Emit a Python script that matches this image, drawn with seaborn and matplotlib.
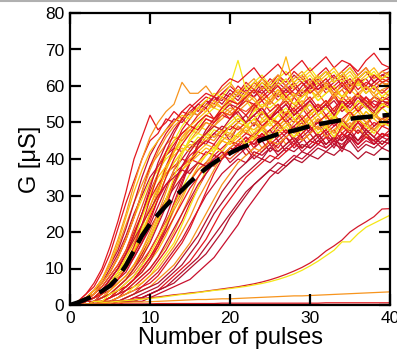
import pandas as pd
import matplotlib.pyplot as plt
import seaborn as sns
from matplotlib.lines import Line2D

pulses = list(range(41))

# conductance traces, one list per device (G in uS at each pulse)
fast_curves = [
    [0, 1, 3, 5, 9, 14, 21, 28, 34, 40, 45, 47, 51, 50, 53, 55, 53, 56, 54, 57,
     56, 55, 58, 57, 59, 56, 58, 60, 58, 57, 60, 59, 61, 58, 60, 62, 59, 61, 60, 58, 60],
    [0, 1, 2, 4, 7, 11, 16, 22, 28, 33, 38, 41, 44, 46, 45, 48, 47, 50, 49, 51,
     53, 50, 52, 54, 51, 53, 55, 52, 54, 56, 53, 55, 54, 57, 55, 53, 56, 54, 57, 55, 56],
    [0, 1, 2, 4, 7, 11, 15, 21, 28, 35, 41, 45, 48, 51, 50, 53, 55, 54, 57, 55,
     58, 56, 59, 57, 60, 58, 61, 59, 57, 60, 62, 59, 61, 63, 60, 58, 61, 62, 59, 61, 60],
    [0, 1, 2, 3, 6, 9, 13, 18, 24, 29, 34, 37, 40, 42, 44, 43, 46, 45, 48, 47,
     49, 48, 50, 47, 51, 49, 52, 50, 48, 51, 53, 50, 52, 51, 54, 52, 50, 53, 51, 54, 52],
    [0, 1, 2, 3, 6, 9, 13, 18, 24, 31, 38, 43, 47, 50, 53, 52, 55, 57, 56, 58,
     57, 60, 58, 61, 59, 62, 60, 58, 61, 63, 60, 62, 64, 61, 63, 60, 62, 64, 61, 63, 62],
    [0, 0, 1, 3, 5, 8, 11, 15, 21, 27, 33, 38, 42, 45, 47, 49, 48, 51, 50, 53,
     52, 54, 53, 55, 52, 56, 54, 57, 55, 53, 56, 58, 55, 57, 59, 56, 58, 55, 57, 59, 57],
    [0, 0, 1, 2, 4, 7, 10, 14, 19, 25, 30, 35, 38, 41, 43, 42, 45, 47, 46, 48,
     47, 50, 49, 51, 48, 52, 50, 53, 51, 49, 52, 54, 51, 53, 55, 52, 54, 51, 53, 55, 54],
    [0, 0, 1, 2, 4, 7, 10, 14, 19, 25, 32, 39, 44, 48, 51, 53, 52, 55, 57, 56,
     59, 57, 60, 58, 61, 59, 62, 60, 63, 61, 59, 62, 64, 61, 63, 65, 62, 64, 61, 63, 64],
    [0, 1, 2, 4, 7, 12, 18, 25, 33, 40, 46, 50, 53, 55, 61, 58, 58, 60, 57, 59,
     61, 58, 60, 62, 59, 61, 63, 60, 62, 64, 61, 63, 60, 62, 64, 61, 63, 65, 62, 64, 63],
]

mid_curves = [
    [0, 0, 1, 2, 4, 6, 9, 12, 16, 21, 27, 33, 38, 42, 45, 47, 49, 48, 51, 53,
     52, 54, 56, 53, 57, 55, 58, 56, 54, 57, 59, 56, 58, 60, 57, 59, 61, 58, 60, 57, 59],
    [0, 0, 1, 2, 3, 5, 8, 11, 15, 19, 24, 29, 33, 36, 38, 40, 39, 42, 41, 43,
     45, 44, 46, 43, 47, 45, 48, 46, 44, 47, 49, 46, 48, 50, 47, 49, 51, 48, 50, 49, 50],
    [0, 0, 1, 2, 3, 5, 8, 11, 15, 20, 25, 31, 37, 42, 46, 48, 50, 52, 51, 54,
     53, 55, 57, 54, 58, 56, 59, 57, 55, 58, 60, 58, 61, 59, 57, 60, 62, 59, 61, 60, 61],
    [0, 0, 1, 1, 3, 4, 7, 9, 13, 17, 22, 27, 32, 37, 40, 43, 45, 44, 47, 49,
     48, 50, 52, 49, 53, 51, 54, 52, 50, 53, 55, 52, 54, 56, 53, 55, 57, 54, 56, 55, 56],
    [0, 0, 1, 2, 3, 5, 7, 10, 14, 19, 25, 31, 38, 43, 48, 51, 54, 56, 55, 58,
     60, 58, 61, 59, 62, 60, 63, 61, 64, 62, 60, 63, 65, 62, 64, 66, 63, 65, 62, 64, 65],
    [0, 0, 0, 1, 2, 4, 6, 8, 11, 15, 19, 24, 29, 33, 37, 39, 41, 43, 42, 45,
     44, 46, 48, 45, 49, 47, 50, 48, 46, 49, 51, 48, 50, 52, 49, 51, 53, 50, 52, 51, 52],
    [0, 0, 0, 1, 2, 4, 6, 8, 11, 15, 20, 25, 31, 37, 42, 45, 48, 50, 49, 52,
     54, 53, 55, 57, 54, 56, 58, 55, 57, 59, 56, 58, 60, 57, 59, 61, 58, 60, 57, 59, 60],
    [0, 0, 0, 1, 2, 3, 5, 7, 10, 14, 18, 23, 29, 34, 38, 41, 43, 45, 44, 47,
     49, 48, 50, 52, 49, 51, 53, 50, 52, 54, 51, 53, 55, 52, 54, 56, 53, 55, 52, 54, 55],
    [0, 0, 0, 1, 2, 3, 5, 7, 10, 13, 18, 23, 29, 35, 41, 46, 49, 52, 54, 53,
     56, 58, 57, 59, 61, 58, 60, 62, 59, 61, 63, 60, 62, 64, 61, 63, 60, 62, 64, 61, 62],
    [0, 0, 1, 2, 4, 6, 9, 13, 18, 24, 30, 36, 41, 45, 49, 52, 54, 56, 58, 57,
     60, 67, 59, 61, 63, 60, 62, 64, 61, 63, 65, 62, 64, 61, 63, 65, 62, 64, 63, 62, 63],
    [0, 0, 1, 2, 3, 5, 8, 11, 16, 22, 29, 36, 42, 47, 51, 54, 56, 58, 57, 60,
     62, 61, 63, 65, 62, 64, 66, 63, 65, 67, 64, 66, 68, 65, 67, 66, 64, 67, 69, 66, 65],
    [0, 0, 1, 2, 3, 5, 7, 10, 14, 19, 25, 31, 37, 42, 46, 49, 51, 53, 55, 54,
     57, 59, 58, 60, 62, 59, 61, 68, 60, 62, 64, 61, 63, 65, 62, 64, 61, 63, 65, 62, 64],
]

slow_curves = [
    [0, 0, 0, 1, 2, 3, 4, 6, 8, 11, 15, 19, 24, 30, 35, 39, 43, 45, 47, 46,
     49, 51, 50, 52, 54, 51, 53, 55, 52, 54, 56, 53, 55, 57, 54, 56, 58, 55, 57, 56, 57],
    [0, 0, 0, 1, 1, 2, 4, 5, 7, 10, 13, 17, 21, 26, 30, 34, 37, 39, 41, 40,
     43, 42, 44, 46, 43, 45, 47, 44, 46, 48, 45, 47, 49, 46, 48, 50, 47, 49, 48, 50, 49],
    [0, 0, 0, 1, 1, 2, 4, 5, 7, 10, 13, 17, 22, 28, 34, 39, 44, 47, 50, 52,
     51, 54, 56, 55, 57, 59, 56, 58, 60, 57, 59, 61, 58, 60, 62, 59, 61, 58, 60, 62, 61],
    [0, 0, 0, 0, 1, 2, 3, 5, 7, 9, 12, 15, 19, 24, 29, 34, 38, 41, 43, 45,
     44, 47, 49, 48, 50, 52, 49, 51, 53, 50, 52, 54, 51, 53, 55, 52, 54, 51, 53, 55, 54],
    [0, 0, 0, 0, 1, 2, 3, 5, 7, 9, 12, 16, 21, 27, 33, 39, 44, 48, 51, 53,
     55, 54, 57, 59, 58, 60, 57, 59, 61, 58, 60, 62, 59, 61, 63, 60, 62, 59, 61, 63, 62],
    [0, 0, 0, 0, 1, 2, 3, 4, 6, 8, 10, 13, 16, 20, 25, 30, 35, 39, 42, 45,
     47, 46, 49, 51, 50, 52, 54, 51, 53, 55, 52, 54, 56, 53, 55, 57, 54, 56, 53, 55, 56],
    [0, 0, 0, 0, 1, 1, 2, 4, 5, 7, 9, 12, 15, 19, 23, 28, 32, 36, 39, 41,
     43, 42, 45, 47, 46, 48, 50, 47, 49, 51, 48, 50, 52, 49, 51, 53, 50, 52, 49, 51, 52],
    [0, 0, 0, 0, 1, 1, 2, 3, 5, 6, 8, 11, 14, 17, 22, 27, 32, 37, 42, 46,
     49, 51, 50, 53, 55, 54, 56, 58, 55, 57, 59, 56, 58, 60, 57, 59, 61, 58, 60, 57, 59],
    [0, 0, 0, 0, 1, 1, 2, 3, 4, 5, 7, 9, 12, 15, 18, 22, 26, 30, 33, 36,
     38, 40, 39, 42, 41, 43, 45, 42, 44, 46, 43, 45, 47, 44, 46, 48, 45, 47, 44, 46, 47],
    [0, 0, 0, 0, 0, 1, 1, 2, 3, 5, 6, 8, 11, 14, 17, 21, 26, 31, 36, 40,
     43, 45, 47, 46, 49, 51, 50, 52, 54, 51, 53, 55, 52, 54, 56, 53, 55, 57, 54, 56, 55],
    [0, 0, 0, 0, 0, 1, 1, 2, 3, 4, 5, 7, 9, 11, 14, 17, 21, 25, 29, 33,
     36, 39, 41, 43, 42, 45, 44, 46, 48, 45, 47, 49, 46, 48, 50, 47, 49, 46, 48, 50, 49],
    [0, 0, 0, 0, 0, 1, 1, 1, 2, 3, 4, 5, 7, 9, 11, 14, 17, 21, 25, 28,
     31, 34, 36, 38, 40, 39, 41, 43, 42, 44, 43, 45, 44, 46, 45, 47, 44, 46, 45, 47, 46],
    [0, 0, 0, 0, 0, 0, 1, 1, 2, 2, 3, 4, 6, 8, 10, 12, 15, 18, 22, 26,
     29, 32, 35, 37, 39, 41, 40, 42, 44, 43, 45, 44, 46, 45, 47, 46, 44, 46, 45, 47, 46],
    [0, 0, 0, 0, 0, 0, 1, 1, 1, 2, 3, 4, 5, 6, 8, 10, 12, 14, 17, 20,
     24, 27, 30, 33, 35, 37, 39, 38, 40, 42, 41, 43, 42, 44, 43, 45, 42, 44, 43, 45, 44],
    [0, 0, 0, 0, 0, 0, 0, 1, 1, 1, 2, 3, 4, 5, 6, 7, 9, 11, 13, 16,
     19, 22, 26, 29, 32, 35, 37, 39, 41, 40, 42, 44, 43, 45, 44, 46, 43, 45, 44, 46, 45],
]

extra_curves = [
    [0, 1, 2, 4, 6, 10, 14, 19, 25, 30, 35, 38, 41, 43, 42, 45, 44, 47, 46, 48,
     45, 49, 47, 50, 48, 46, 49, 51, 48, 50, 47, 51, 49, 52, 50, 48, 51, 49, 53, 50, 51],
    [0, 0, 1, 3, 5, 8, 11, 15, 20, 25, 29, 33, 36, 38, 40, 39, 42, 41, 44, 42,
     45, 43, 46, 44, 47, 45, 43, 46, 48, 45, 47, 49, 46, 48, 45, 49, 47, 50, 48, 46, 48],
    [0, 1, 3, 6, 10, 16, 23, 31, 40, 46, 52, 48, 50, 53, 51, 49, 52, 54, 51, 53,
     55, 52, 50, 54, 56, 53, 55, 52, 57, 54, 56, 53, 55, 58, 54, 56, 53, 57, 55, 54, 56],
    [0, 0, 1, 2, 4, 6, 9, 13, 17, 22, 27, 32, 36, 39, 42, 44, 43, 46, 45, 48,
     46, 49, 47, 50, 48, 51, 49, 47, 50, 52, 49, 51, 48, 52, 50, 53, 51, 49, 52, 50, 52],
    [0, 0, 1, 2, 3, 5, 7, 10, 13, 17, 21, 25, 29, 32, 35, 37, 39, 38, 41, 40,
     42, 44, 41, 43, 45, 42, 44, 46, 43, 45, 47, 44, 46, 43, 47, 45, 48, 46, 44, 47, 46],
    [0, 0, 0, 1, 2, 4, 6, 8, 11, 14, 18, 23, 28, 33, 37, 40, 42, 44, 43, 46,
     45, 47, 49, 46, 48, 50, 47, 49, 51, 48, 50, 52, 49, 51, 48, 52, 50, 53, 51, 49, 52],
    [0, 0, 1, 2, 4, 7, 10, 14, 19, 25, 31, 36, 41, 44, 47, 49, 48, 51, 50, 53,
     51, 54, 52, 55, 53, 51, 54, 56, 53, 55, 57, 54, 56, 53, 57, 55, 58, 56, 54, 57, 56],
    [0, 0, 0, 1, 2, 3, 5, 7, 9, 12, 15, 19, 23, 27, 31, 34, 37, 39, 38, 41,
     40, 42, 44, 41, 43, 45, 42, 44, 46, 43, 45, 47, 44, 46, 43, 47, 45, 48, 46, 44, 46],
    [0, 0, 0, 0, 1, 2, 3, 4, 6, 8, 10, 13, 17, 21, 25, 29, 33, 36, 39, 41,
     43, 42, 45, 44, 46, 48, 45, 47, 49, 46, 48, 50, 47, 49, 51, 48, 50, 47, 49, 51, 50],
    [0, 1, 2, 3, 6, 9, 13, 18, 24, 31, 37, 42, 46, 49, 51, 53, 52, 55, 54, 57,
     55, 58, 56, 59, 57, 55, 58, 60, 57, 59, 61, 58, 60, 57, 61, 59, 62, 60, 58, 61, 60],
    [0, 0, 1, 2, 3, 5, 8, 11, 15, 20, 25, 30, 35, 39, 42, 45, 47, 46, 49, 48,
     50, 52, 49, 51, 53, 50, 52, 54, 51, 53, 55, 52, 54, 51, 55, 53, 56, 54, 52, 55, 54],
    [0, 0, 0, 1, 1, 2, 4, 5, 7, 10, 13, 16, 20, 24, 28, 32, 35, 38, 40, 42,
     41, 44, 43, 45, 47, 44, 46, 48, 45, 47, 49, 46, 48, 45, 49, 47, 50, 48, 46, 49, 48],
    [0, 0, 0, 1, 2, 3, 5, 7, 10, 13, 17, 22, 27, 33, 38, 42, 45, 47, 49, 48,
     51, 53, 50, 52, 54, 51, 53, 55, 52, 54, 56, 53, 55, 52, 56, 54, 57, 55, 53, 56, 55],
    [0, 0, 0, 0, 1, 1, 2, 3, 4, 6, 8, 10, 13, 16, 20, 24, 29, 33, 37, 41,
     43, 45, 44, 47, 49, 46, 48, 50, 47, 49, 51, 48, 50, 47, 51, 49, 52, 50, 48, 51, 50],
    [0, 0, 0, 0, 0, 1, 1, 2, 3, 4, 5, 6, 8, 10, 13, 16, 19, 23, 27, 31,
     34, 37, 39, 41, 40, 43, 42, 44, 46, 43, 45, 47, 44, 46, 43, 47, 45, 48, 46, 44, 46],
    [0, 1, 2, 4, 7, 11, 17, 24, 31, 37, 42, 45, 48, 50, 52, 51, 54, 53, 56, 54,
     57, 55, 58, 56, 54, 57, 59, 56, 58, 55, 59, 57, 60, 58, 56, 59, 57, 60, 58, 56, 58],
    [0, 0, 1, 2, 3, 5, 7, 10, 14, 18, 23, 29, 35, 40, 44, 47, 50, 52, 51, 54,
     56, 55, 57, 59, 56, 58, 60, 57, 59, 61, 58, 60, 62, 59, 61, 58, 62, 60, 63, 61, 62],
    [0, 0, 0, 1, 1, 3, 4, 6, 8, 11, 14, 18, 22, 27, 32, 36, 39, 41, 43, 42,
     45, 47, 44, 46, 48, 45, 47, 49, 46, 48, 50, 47, 49, 46, 50, 48, 51, 49, 47, 50, 49],
    [0, 0, 1, 2, 4, 7, 10, 14, 18, 22, 26, 30, 33, 35, 37, 36, 39, 38, 40, 42,
     39, 41, 43, 40, 42, 44, 41, 43, 45, 42, 44, 46, 43, 45, 42, 46, 44, 47, 45, 43, 45],
    [0, 0, 0, 0, 0, 0, 1, 1, 1, 2, 3, 4, 5, 7, 9, 11, 13, 16, 19, 22,
     25, 28, 31, 33, 35, 37, 36, 38, 40, 39, 41, 40, 42, 41, 43, 42, 40, 42, 41, 43, 42],
]

outlier_curves = [
    [0, 0.1, 0.3, 0.5, 0.7, 0.9, 1.1, 1.3, 1.5, 1.8, 2.0, 2.2, 2.5, 2.8, 3.0, 3.3, 3.5, 3.8, 4.1, 4.4,
     4.7, 5.0, 5.4, 5.8, 6.3, 6.9, 7.6, 8.4, 9.3, 10.3, 11.5, 13.0, 14.8, 16.2, 17.8, 20.0, 21.5, 22.8, 24.2, 26.3, 26.4],
    [0, 0.1, 0.2, 0.4, 0.6, 0.8, 1.0, 1.2, 1.4, 1.6, 1.8, 2.0, 2.3, 2.6, 2.9, 3.1, 3.4, 3.7, 4.0, 4.2,
     4.5, 4.8, 5.1, 5.5, 5.9, 6.4, 7.0, 7.7, 8.5, 9.5, 10.7, 12.0, 13.5, 15.0, 17.3, 17.3, 19.5, 21.3, 22.4, 23.5, 24.6],
    [0, 0.1, 0.2, 0.3, 0.4, 0.5, 0.6, 0.7, 0.8, 0.8, 0.9, 1.0, 1.1, 1.2, 1.3, 1.4, 1.5, 1.5, 1.6, 1.7,
     1.7, 1.8, 1.9, 2.0, 2.1, 2.2, 2.3, 2.4, 2.5, 2.5, 2.6, 2.7, 2.8, 2.9, 3.0, 3.1, 3.2, 3.3, 3.4, 3.5, 3.6],
    [0, 0.1, 0.1, 0.2, 0.2, 0.2, 0.3, 0.3, 0.3, 0.3, 0.3, 0.4, 0.4, 0.4, 0.4, 0.4, 0.4, 0.4, 0.4, 0.5,
     0.5, 0.5, 0.5, 0.5, 0.5, 0.5, 0.5, 0.5, 0.5, 0.5, 0.5, 0.5, 0.6, 0.6, 0.6, 0.6, 0.6, 0.6, 0.6, 0.6, 0.6],
]

fast_colors = ["#e3171f", "#f7941d", "#c8102e", "#f5e616", "#e3171f", "#f0501e", "#fdb913", "#c8102e", "#f7941d"]
mid_colors = ["#f5e616", "#e3171f", "#f7941d", "#c8102e", "#e3171f", "#fdb913", "#f7941d",
              "#e3171f", "#f5e616", "#f5e616", "#e3171f", "#fdb913"]
slow_colors = ["#c8102e", "#f7941d", "#e3171f", "#fdb913", "#c8102e", "#f7941d", "#e3171f",
               "#f5e616", "#c8102e", "#e3171f", "#f7941d", "#b3122e", "#e3171f", "#b3122e", "#c8102e"]
extra_colors = ["#c8102e", "#e3171f", "#e3171f", "#f7941d", "#c8102e", "#fdb913", "#e3171f",
                "#f0501e", "#c8102e", "#f7941d", "#f5e616", "#e3171f", "#c8102e", "#f7941d",
                "#b3122e", "#fdb913", "#e3171f", "#f5e616", "#c8102e", "#b3122e"]
outlier_colors = ["#d41a2a", "#f5e616", "#f7941d", "#e3171f"]

# fitted mean trend (black dashed)
mean_fit = [0, 0.7, 1.6, 2.6, 3.8, 5.3, 7.6, 10.9, 14.9, 19.0, 22.2, 24.8, 27.2, 29.5, 31.5, 33.7,
            35.6, 37.4, 39.0, 40.4, 41.6, 42.7, 43.6, 44.5, 45.3, 46.1, 46.8, 47.3, 47.8, 48.4,
            49.0, 49.5, 49.9, 50.3, 50.7, 51.0, 51.3, 51.5, 51.7, 51.9, 52.1]

groups = [fast_curves, mid_curves, slow_curves, extra_curves]
group_colors = [fast_colors, mid_colors, slow_colors, extra_colors]

# interleave the groups so the colours mix like in the original
curves, colors = [], []
for k in range(max(len(g) for g in groups)):
    for g, gc in zip(groups, group_colors):
        if k < len(g):
            curves.append(g[k])
            colors.append(gc[k])
curves += outlier_curves
colors += outlier_colors

rows = []
for i, c in enumerate(curves):
    assert len(c) == len(pulses), (i, len(c))
    for p, g in zip(pulses, c):
        rows.append({"pulse": p, "G": g, "curve": f"c{i}"})
df = pd.DataFrame(rows)
palette = {f"c{i}": col for i, col in enumerate(colors)}

sns.set_style("ticks")
plt.rcParams.update({
    "font.family": ["Liberation Sans", "DejaVu Sans"],
    "axes.axisbelow": False,
    "xtick.direction": "in", "ytick.direction": "in",
    "xtick.top": True, "ytick.right": True,
    "xtick.major.size": 8, "ytick.major.size": 8,
    "xtick.major.width": 1.6, "ytick.major.width": 1.6,
    "xtick.color": "black", "ytick.color": "black",
})

fig = plt.figure(figsize=(3.97, 3.5), dpi=100)
ax = fig.add_axes([70 / 397, 1 - 305 / 350, 320 / 397, 292 / 350])

sns.lineplot(data=df, x="pulse", y="G", hue="curve", palette=palette, units="curve",
             estimator=None, linewidth=0.9, legend=False, ax=ax, sort=False)
sns.lineplot(x=pulses, y=mean_fit, color="black", linewidth=3.2, ax=ax)
ax.lines[-1].set_dashes((5, 2.2))

ax.set_xlim(0, 40)
ax.set_ylim(0, 80)
ax.set_xticks(range(0, 41, 10))
ax.set_yticks(range(0, 81, 10))
ax.xaxis.set_ticks_position("both")
ax.yaxis.set_ticks_position("both")
ax.tick_params(which="major", direction="in", length=8, width=1.6,
               labelsize=12.5, pad=4, colors="black")
for s in ax.spines.values():
    s.set_linewidth(1.6)
    s.set_color("black")
ax.set_xlabel("Number of pulses", fontsize=17, labelpad=1, color="black")
ax.set_ylabel("G [μS]", fontsize=17, labelpad=3, color="black")

# thin grey border line along the top of the image
fig.add_artist(Line2D([0, 1], [0.998, 0.998], color="#b0b0b0", linewidth=1.5))

fig.savefig("out.png", dpi=100)
